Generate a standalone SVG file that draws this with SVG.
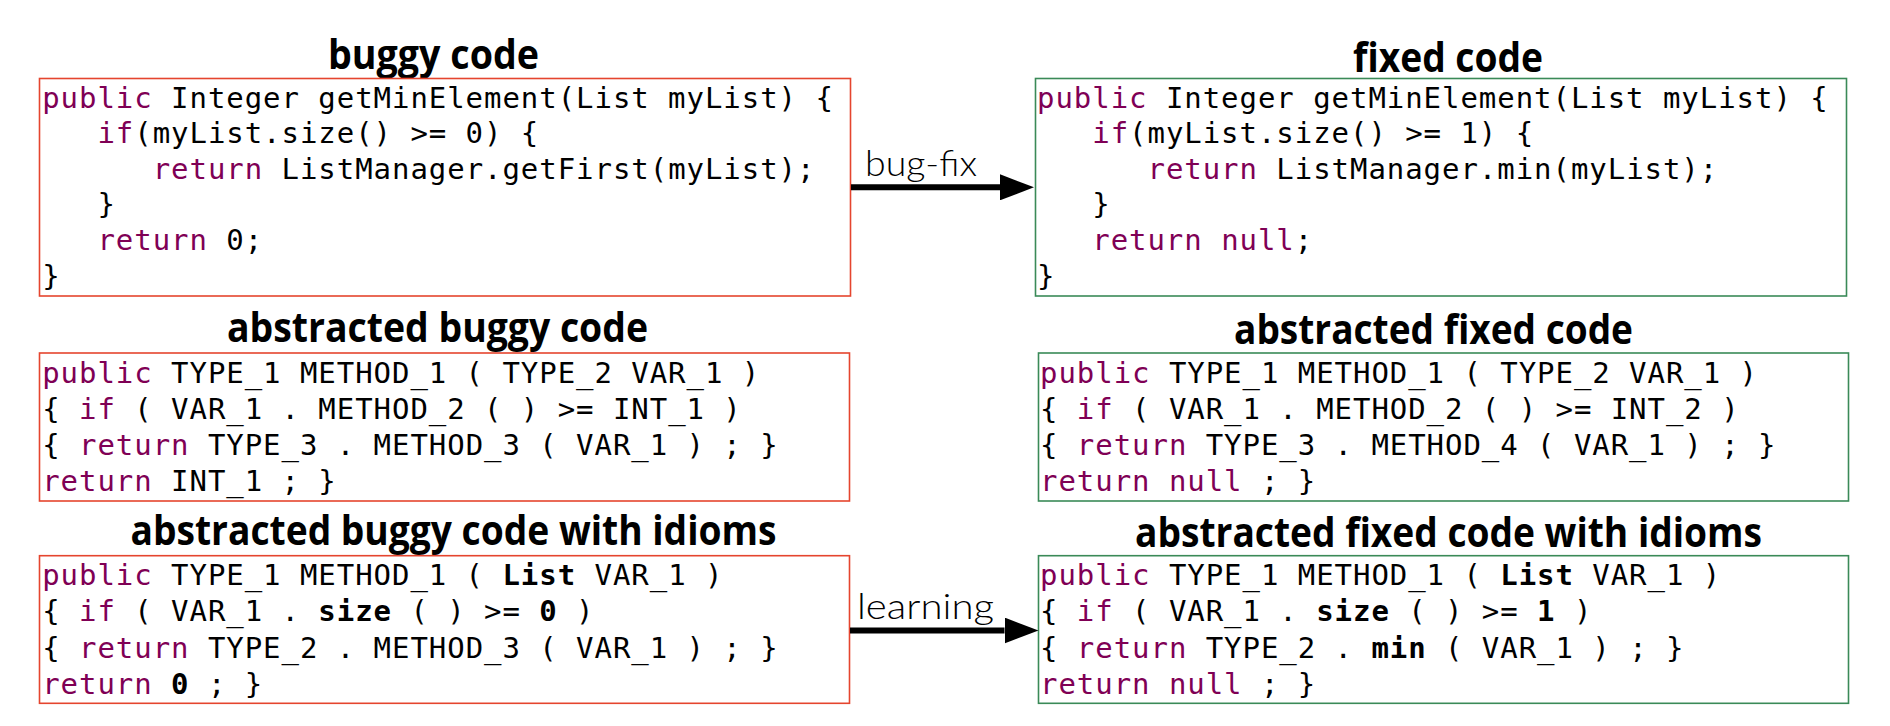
<svg xmlns="http://www.w3.org/2000/svg" width="1890" height="726" viewBox="0 0 1890 726">
<style>
.bg{fill:#ffffff}
.boxr{fill:#ffffff;stroke:#e5452e;stroke-width:1.6}
.boxg{fill:#ffffff;stroke:#3a8a58;stroke-width:1.6}
.title{font-family:"Open Sans","Noto Sans","Liberation Sans",sans-serif;font-weight:700;font-size:41px;fill:#000}
.code{font-family:"DejaVu Sans Mono","Liberation Mono",monospace;font-size:29px;letter-spacing:0.95px;fill:#000}
.k{fill:#7f0055}
.b{font-weight:700}
.lbl{font-family:Lato,"Open Sans","Liberation Sans",sans-serif;font-weight:300;font-size:36px;fill:#000}
.shaft{stroke:#000;stroke-width:6;fill:none}
</style>
<defs>
<marker id="ah" markerUnits="userSpaceOnUse" viewBox="0 0 34 26" markerWidth="34" markerHeight="26" refX="0" refY="13" orient="auto">
<path d="M0,0 L34,13 L0,26 z" fill="#000"/>
</marker>
</defs>
<rect class="bg" x="0" y="0" width="1890" height="726"/>

<g id="buggy-code">
<text class="title" x="328" y="68.5" textLength="211" lengthAdjust="spacingAndGlyphs">buggy code</text>
<rect class="boxr" x="39.5" y="78.5" width="811" height="217.5"/>
<text class="code" xml:space="preserve" x="42.2" y="107.5"><tspan class="k">public</tspan> Integer getMinElement(List myList) {</text>
<text class="code" xml:space="preserve" x="42.2" y="143.1">   <tspan class="k">if</tspan>(myList.size() &gt;= 0) {</text>
<text class="code" xml:space="preserve" x="42.2" y="178.7">      <tspan class="k">return</tspan> ListManager.getFirst(myList);</text>
<text class="code" xml:space="preserve" x="42.2" y="214.3">   }</text>
<text class="code" xml:space="preserve" x="42.2" y="249.9">   <tspan class="k">return</tspan> 0;</text>
<text class="code" xml:space="preserve" x="42.2" y="285.5">}</text>
</g>

<g id="fixed-code">
<text class="title" x="1353" y="72" textLength="190" lengthAdjust="spacingAndGlyphs">fixed code</text>
<rect class="boxg" x="1035.5" y="78.5" width="811" height="217.5"/>
<text class="code" xml:space="preserve" x="1037" y="107.5"><tspan class="k">public</tspan> Integer getMinElement(List myList) {</text>
<text class="code" xml:space="preserve" x="1037" y="143.1">   <tspan class="k">if</tspan>(myList.size() &gt;= 1) {</text>
<text class="code" xml:space="preserve" x="1037" y="178.7">      <tspan class="k">return</tspan> ListManager.min(myList);</text>
<text class="code" xml:space="preserve" x="1037" y="214.3">   }</text>
<text class="code" xml:space="preserve" x="1037" y="249.9">   <tspan class="k">return</tspan> <tspan class="k">null</tspan>;</text>
<text class="code" xml:space="preserve" x="1037" y="285.5">}</text>
</g>

<g id="abstracted-buggy-code">
<text class="title" x="227" y="342" textLength="421" lengthAdjust="spacingAndGlyphs">abstracted buggy code</text>
<rect class="boxr" x="39.5" y="353" width="810" height="148"/>
<text class="code" xml:space="preserve" x="42.2" y="382.7"><tspan class="k">public</tspan> TYPE_1 METHOD_1 ( TYPE_2 VAR_1 )</text>
<text class="code" xml:space="preserve" x="42.2" y="418.8">{ <tspan class="k">if</tspan> ( VAR_1 . METHOD_2 ( ) &gt;= INT_1 )</text>
<text class="code" xml:space="preserve" x="42.2" y="454.9">{ <tspan class="k">return</tspan> TYPE_3 . METHOD_3 ( VAR_1 ) ; }</text>
<text class="code" xml:space="preserve" x="42.2" y="491"><tspan class="k">return</tspan> INT_1 ; }</text>
</g>

<g id="abstracted-fixed-code">
<text class="title" x="1234" y="344" textLength="399" lengthAdjust="spacingAndGlyphs">abstracted fixed code</text>
<rect class="boxg" x="1038.5" y="353" width="810" height="148"/>
<text class="code" xml:space="preserve" x="1040" y="382.7"><tspan class="k">public</tspan> TYPE_1 METHOD_1 ( TYPE_2 VAR_1 )</text>
<text class="code" xml:space="preserve" x="1040" y="418.8">{ <tspan class="k">if</tspan> ( VAR_1 . METHOD_2 ( ) &gt;= INT_2 )</text>
<text class="code" xml:space="preserve" x="1040" y="454.9">{ <tspan class="k">return</tspan> TYPE_3 . METHOD_4 ( VAR_1 ) ; }</text>
<text class="code" xml:space="preserve" x="1040" y="491"><tspan class="k">return</tspan> <tspan class="k">null</tspan> ; }</text>
</g>

<g id="abstracted-buggy-code-idioms">
<text class="title" x="130.5" y="545" textLength="646" lengthAdjust="spacingAndGlyphs">abstracted buggy code with idioms</text>
<rect class="boxr" x="39.5" y="555.7" width="810" height="147.6"/>
<text class="code" xml:space="preserve" x="42.2" y="585"><tspan class="k">public</tspan> TYPE_1 METHOD_1 ( <tspan class="b">List</tspan> VAR_1 )</text>
<text class="code" xml:space="preserve" x="42.2" y="621.3">{ <tspan class="k">if</tspan> ( VAR_1 . <tspan class="b">size</tspan> ( ) &gt;= <tspan class="b">0</tspan> )</text>
<text class="code" xml:space="preserve" x="42.2" y="657.6">{ <tspan class="k">return</tspan> TYPE_2 . METHOD_3 ( VAR_1 ) ; }</text>
<text class="code" xml:space="preserve" x="42.2" y="694"><tspan class="k">return</tspan> <tspan class="b">0</tspan> ; }</text>
</g>

<g id="abstracted-fixed-code-idioms">
<text class="title" x="1135" y="547" textLength="627" lengthAdjust="spacingAndGlyphs">abstracted fixed code with idioms</text>
<rect class="boxg" x="1038.5" y="555.7" width="810" height="147.6"/>
<text class="code" xml:space="preserve" x="1040" y="585"><tspan class="k">public</tspan> TYPE_1 METHOD_1 ( <tspan class="b">List</tspan> VAR_1 )</text>
<text class="code" xml:space="preserve" x="1040" y="621.3">{ <tspan class="k">if</tspan> ( VAR_1 . <tspan class="b">size</tspan> ( ) &gt;= <tspan class="b">1</tspan> )</text>
<text class="code" xml:space="preserve" x="1040" y="657.6">{ <tspan class="k">return</tspan> TYPE_2 . <tspan class="b">min</tspan> ( VAR_1 ) ; }</text>
<text class="code" xml:space="preserve" x="1040" y="694"><tspan class="k">return</tspan> <tspan class="k">null</tspan> ; }</text>
</g>

<g id="connectors">
<line class="shaft" x1="851" y1="187.3" x2="1000" y2="187.3" marker-end="url(#ah)"/>
<text class="lbl" x="865" y="175.7" textLength="112" lengthAdjust="spacingAndGlyphs">bug-fix</text>
<line class="shaft" x1="850" y1="630.5" x2="1004.5" y2="630.5" marker-end="url(#ah)"/>
<text class="lbl" x="857" y="619.3" textLength="137" lengthAdjust="spacingAndGlyphs">learning</text>
</g>
</svg>
